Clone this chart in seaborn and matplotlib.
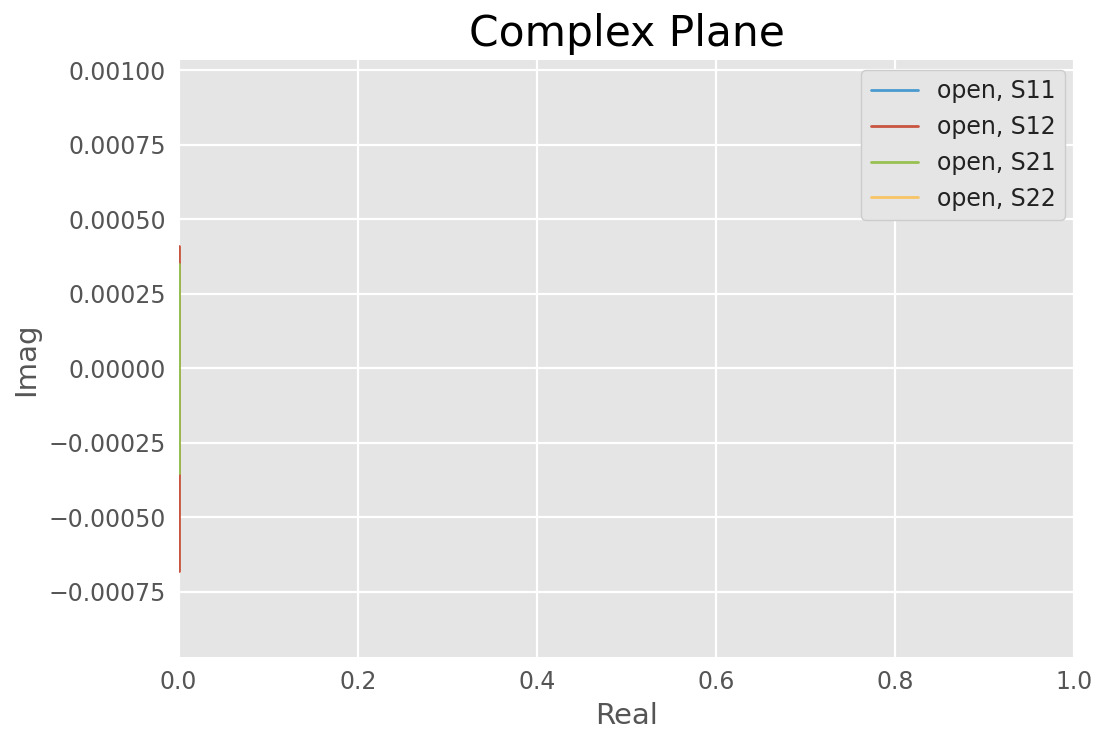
import matplotlib
matplotlib.use("Agg")
import matplotlib.pyplot as plt
import matplotlib.ticker as mticker
import seaborn as sns
import pandas as pd

# Data (complex S-parameters of an "open" standard, real/imag parts)
series_names = ["open, S11", "open, S12", "open, S21", "open, S22"]
s11_real = [1.030, 1.028, 1.026, 1.024]
s11_imag = [-0.00020, 0.00010, 0.00030, 0.00050]
s12_real = [0.0, 0.0, 0.0, 0.0, 0.0, 0.0]
s12_imag = [0.00041, 0.00020, -0.00010, -0.00035, -0.00055, -0.00068]
s21_real = [0.0, 0.0, 0.0, 0.0, 0.0]
s21_imag = [0.00035, 0.00015, -0.00005, -0.00020, -0.00035]
s22_real = [1.030, 1.028, 1.026, 1.024]
s22_imag = [-0.00030, 0.00000, 0.00020, 0.00040]
colors = ["#4A9AD0", "#C8553F", "#98C050", "#F8C465"]

x_limits = (0.0, 1.0)
y_limits = (-0.00097, 0.001034)
x_ticks = [0.0, 0.2, 0.4, 0.6, 0.8, 1.0]
y_ticks = [-0.00075, -0.00050, -0.00025, 0.0, 0.00025, 0.00050, 0.00075, 0.00100]

frames = []
for name, re, im in zip(series_names,
                        [s11_real, s12_real, s21_real, s22_real],
                        [s11_imag, s12_imag, s21_imag, s22_imag]):
    frames.append(pd.DataFrame({"Real": re, "Imag": im, "series": name}))
df = pd.concat(frames, ignore_index=True)

sns.set_theme(style="darkgrid", rc={
    "axes.facecolor": "#E5E5E5",
    "grid.color": "white",
    "grid.linewidth": 1.6,
    "axes.edgecolor": "white",
})
plt.rcParams["font.family"] = ["DejaVu Sans"]

fig = plt.figure(figsize=(11.03, 7.36), dpi=100)
ax = fig.add_axes([0.162, 0.107, 0.812, 0.811])

sns.lineplot(data=df, x="Real", y="Imag", hue="series", hue_order=series_names,
             estimator=None, sort=False, palette=dict(zip(series_names, colors)),
             linewidth=2.0, ax=ax)

ax.set_xlim(*x_limits)
ax.set_ylim(*y_limits)
ax.set_yticks(y_ticks)
ax.set_xticks(x_ticks)

def fmt(v, pos):
    s = f"{v:.5f}"
    if s.startswith("-") and float(s) == 0:
        s = s[1:]
    return s.replace("-", "\u2212")

ax.yaxis.set_major_formatter(mticker.FuncFormatter(fmt))
ax.xaxis.set_major_formatter(mticker.FuncFormatter(lambda v, p: f"{v:.1f}"))
ax.tick_params(axis="both", labelsize=17, colors="#555555", length=0, pad=9)
ax.set_xlabel("Real", fontsize=21, color="#555555", labelpad=6)
ax.set_ylabel("Imag", fontsize=21, color="#555555", labelpad=6)
ax.set_title("Complex Plane", fontsize=30.5, color="black", pad=10)
for sp in ax.spines.values():
    sp.set_visible(False)

handles, labels = ax.get_legend_handles_labels()
leg = ax.legend(handles, labels, loc="upper right", fontsize=17, frameon=True,
                facecolor="#E5E5E5", edgecolor="#CCCCCC", framealpha=1.0,
                handlelength=2.0, borderaxespad=0.4)
leg.get_frame().set_linewidth(1.0)
for t in leg.get_texts():
    t.set_color("#222222")

fig.savefig("out.png", dpi=100)
